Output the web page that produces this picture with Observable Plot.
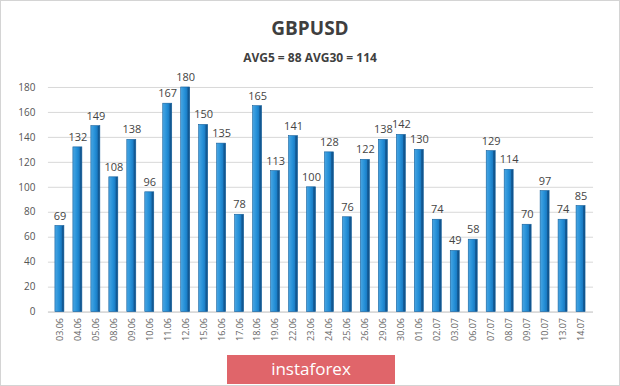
<!DOCTYPE html>
<html>
<head>
<meta charset="utf-8">
<script src="https://cdn.jsdelivr.net/npm/d3@7"></script>
<script src="https://cdn.jsdelivr.net/npm/@observablehq/plot@0.6"></script>
<style>
  html, body { margin: 0; padding: 0; background: #fff; }
  #frame { position: relative; width: 618px; height: 384px; border: 1px solid #d4d4d4; overflow: hidden; font-family: "Open Sans", sans-serif; }
  #title { position: absolute; top: 14px; left: 0; width: 100%; text-align: center; font-size: 19px; font-weight: 700; color: #3f3f3f; line-height: 26px; }
  #subtitle { position: absolute; top: 48px; left: 0; width: 100%; text-align: center; font-size: 12px; font-weight: 700; color: #3f3f3f; line-height: 18px; }
  #chart { position: absolute; top: 69px; left: -1px; }
  #logo { position: absolute; left: 226px; top: 354px; width: 168px; height: 29px; background: #e0656a; color: #fff; text-align: center; font-size: 17px; line-height: 28px; font-family: "Open Sans", sans-serif; }
</style>
</head>
<body>
<div id="frame">
  <div id="title">GBPUSD</div>
  <div id="subtitle">AVG5 = 88 AVG30 = 114</div>
  <div id="chart"></div>
  <div id="logo">instaforex</div>
</div>
<script>
const dates = ["03.06","04.06","05.06","08.06","09.06","10.06","11.06","12.06","15.06","16.06","17.06","18.06","19.06","22.06","23.06","24.06","25.06","26.06","29.06","30.06","01.06","02.07","03.07","06.07","07.07","08.07","09.07","10.07","13.07","14.07"];
const values = [69,132,149,108,138,96,167,180,150,135,78,165,113,141,100,128,76,122,138,142,130,74,49,58,129,114,70,97,74,85];
const yTicks = [0,20,40,60,80,100,120,140,160,180];

const data = dates.map((d, i) => ({date: d, value: values[i]}));

const plot = Plot.plot({
  width: 620,
  height: 286,
  marginTop: 17,
  marginBottom: 44,
  marginLeft: 48,
  marginRight: 26,
  style: {fontFamily: "Open Sans, sans-serif", color: "#555", background: "transparent"},
  x: {domain: dates, range: [50, 591], paddingInner: 0.5, paddingOuter: 0.25, label: null},
  y: {domain: [0, 180], label: null},
  marks: [
    Plot.gridY(yTicks, {stroke: "#d8d8d8", strokeOpacity: 1}),
    Plot.ruleY([0], {stroke: "#cfcfcf"}),
    Plot.axisY(yTicks, {tickSize: 0, tickPadding: 13, fontSize: 10, fill: "#555", label: null}),
    Plot.axisX({tickSize: 0, tickPadding: 6, tickRotate: -90, fontSize: 9, fill: "#666", label: null}),
    Plot.barY(data, {x: "date", y: "value", fill: "url(#barGrad)", stroke: "#135f9c", strokeWidth: 0.6}),
    Plot.text(data, {x: "date", y: "value", text: d => String(d.value), dy: -10, fontSize: 11, fill: "#444"})
  ]
});

const svg = d3.select(plot);
const defs = svg.insert("defs", ":first-child");
const g = defs.append("linearGradient").attr("id", "barGrad").attr("x1", "0").attr("x2", "1").attr("y1", "0").attr("y2", "0");
g.append("stop").attr("offset", "0%").attr("stop-color", "#4aa6e2");
g.append("stop").attr("offset", "45%").attr("stop-color", "#2590d8");
g.append("stop").attr("offset", "72%").attr("stop-color", "#1b7cc4");
g.append("stop").attr("offset", "78%").attr("stop-color", "#135f9c");
g.append("stop").attr("offset", "100%").attr("stop-color", "#0f4f86");

document.getElementById("chart").appendChild(plot);
</script>
</body>
</html>
